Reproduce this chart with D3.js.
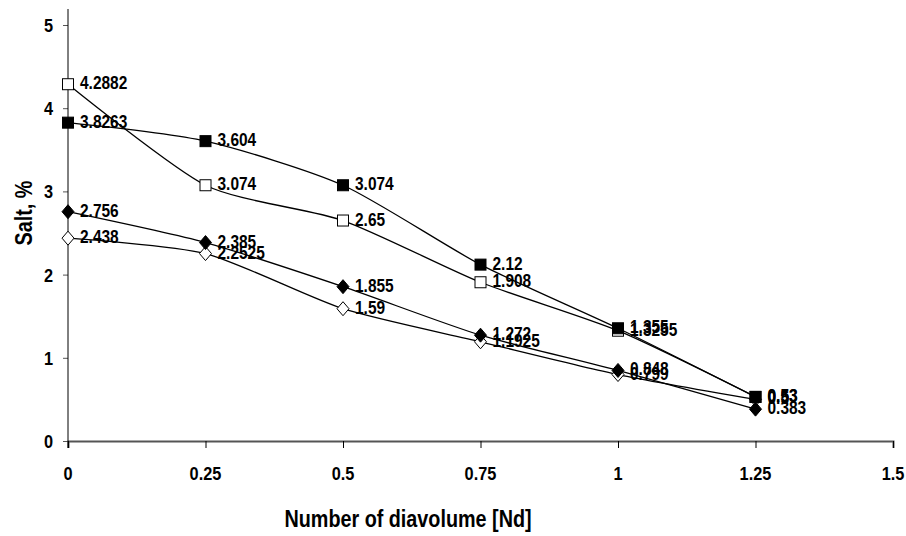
<!DOCTYPE html>
<html><head><meta charset="utf-8">
<script src="https://cdn.jsdelivr.net/npm/d3@7"></script>
<style>
body{margin:0;background:#fff;}
text{font-family:"Liberation Sans",Arial,sans-serif;font-weight:bold;}
</style></head><body>
<svg id="c" width="906" height="536"></svg>
<script>
const xValues = [0, 0.25, 0.5, 0.75, 1, 1.25];
const openSquare = [4.2882, 3.074, 2.65, 1.908, 1.3255, 0.53];
const filledSquare = [3.8263, 3.604, 3.074, 2.12, 1.355, 0.53];
const filledDiamond = [2.756, 2.385, 1.855, 1.272, 0.848, 0.383];
const openDiamond = [2.438, 2.2525, 1.59, 1.1925, 0.799, 0.5];
const xTicks = [0, 0.25, 0.5, 0.75, 1, 1.25, 1.5];
const yTicks = [0, 1, 2, 3, 4, 5];

const series = [
  {name:"openDiamond", values: openDiamond, shape:"diamond", fill:"#fff"},
  {name:"filledDiamond", values: filledDiamond, shape:"diamond", fill:"#000"},
  {name:"openSquare", values: openSquare, shape:"square", fill:"#fff"},
  {name:"filledSquare", values: filledSquare, shape:"square", fill:"#000"}
];

const SX = 0.86; // narrow text
const svg = d3.select("#c");
const x = d3.scaleLinear().domain([0, 1.5]).range([68, 893]);
const y = d3.scaleLinear().domain([0, 5]).range([441, 25]);

function label(px, py, txt, size, anchor, rot){
  svg.append("text")
    .attr("transform", `translate(${px},${py})` + (rot ? ` rotate(${rot})` : "") + ` scale(${SX},1)`)
    .attr("text-anchor", anchor).attr("font-size", size).attr("fill","#000").text(txt);
}

// axes
const gx = svg.append("g").attr("transform","translate(0,441)")
  .call(d3.axisBottom(x).tickValues(xTicks).tickFormat("").tickSize(7));
gx.select(".domain").attr("stroke","#555").attr("stroke-width",2);
gx.selectAll(".tick line").attr("stroke","#000");
xTicks.forEach(t => label(x(t), 480, String(t), 19, "middle"));

const gy = svg.append("g").attr("transform","translate(68,0)")
  .call(d3.axisLeft(y).tickValues(yTicks).tickFormat("").tickSize(5));
gy.select(".domain").remove();
gy.append("line").attr("x1",0).attr("x2",0).attr("y1",9).attr("y2",448).attr("stroke","#000").attr("stroke-width",1);
gy.selectAll(".tick line").attr("stroke","#555");
yTicks.forEach(t => label(53, y(t)+7, String(t), 19, "end"));

// lines
const line = d3.line().x((d,i)=>x(xValues[i])).y(d=>y(d)).curve(d3.curveCardinal.tension(0.3));
series.forEach(s=>{
  svg.append("path").datum(s.values).attr("d",line)
    .attr("fill","none").attr("stroke","#000").attr("stroke-width",1.3);
});

// markers and labels
series.forEach(s=>{
  s.values.forEach((v,i)=>{
    const cx = x(xValues[i]), cy = y(v);
    if(s.shape==="square"){
      svg.append("rect").attr("x",cx-5.5).attr("y",cy-5.5).attr("width",11).attr("height",11)
        .attr("fill",s.fill).attr("stroke","#000").attr("stroke-width",1);
    } else {
      svg.append("path").attr("d",`M${cx},${cy-7}L${cx+6},${cy}L${cx},${cy+7}L${cx-6},${cy}Z`)
        .attr("fill",s.fill).attr("stroke","#000").attr("stroke-width",1);
    }
  });
});
series.forEach(s=>{
  s.values.forEach((v,i)=>{
    const cx = x(xValues[i]), cy = y(v);
    label(cx+12, cy+5, String(v), 18, "start");
  });
});

// axis titles
label(32, 213, "Salt, %", 23, "middle", -90);
label(408, 527, "Number of diavolume [Nd]", 23, "middle");
</script></body></html>
